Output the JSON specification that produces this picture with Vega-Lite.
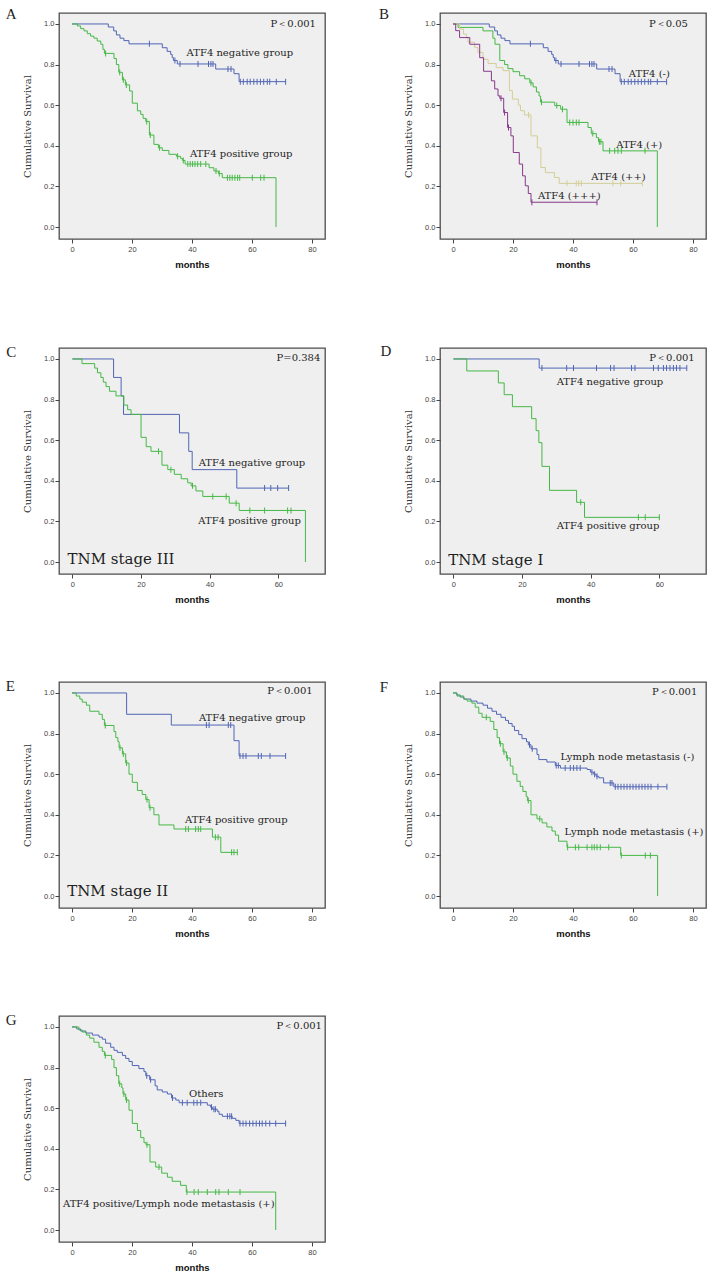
{
"$schema":"https://vega.github.io/schema/vega-lite/v6.json",
"padding":{"left":5,"top":6,"right":5,"bottom":2},
"background":"white",
"columns":2,
"spacing":{"row":73,"column":52},
"datasets":{
"km":[
{"p":"A","g":"neg","t":0,"s":1,"c":0},{"p":"A","g":"neg","t":12.1,"s":0.985,"c":0},{"p":"A","g":"neg","t":13.9,"s":0.966,"c":0},{"p":"A","g":"neg","t":14.8,"s":0.946,"c":0},{"p":"A","g":"neg","t":16,"s":0.93,"c":0},{"p":"A","g":"neg","t":17.3,"s":0.918,"c":0},{"p":"A","g":"neg","t":19,"s":0.902,"c":0},{"p":"A","g":"neg","t":25.8,"s":0.902,"c":1},{"p":"A","g":"neg","t":30.1,"s":0.883,"c":0},{"p":"A","g":"neg","t":31.7,"s":0.865,"c":0},{"p":"A","g":"neg","t":32.9,"s":0.85,"c":0},{"p":"A","g":"neg","t":33.4,"s":0.835,"c":0},{"p":"A","g":"neg","t":33.8,"s":0.82,"c":0},{"p":"A","g":"neg","t":34.3,"s":0.82,"c":1},{"p":"A","g":"neg","t":35.1,"s":0.803,"c":0},{"p":"A","g":"neg","t":36,"s":0.803,"c":1},{"p":"A","g":"neg","t":42,"s":0.803,"c":1},{"p":"A","g":"neg","t":45.5,"s":0.803,"c":1},{"p":"A","g":"neg","t":46.3,"s":0.803,"c":1},{"p":"A","g":"neg","t":47,"s":0.803,"c":1},{"p":"A","g":"neg","t":47.9,"s":0.778,"c":0},{"p":"A","g":"neg","t":52,"s":0.778,"c":1},{"p":"A","g":"neg","t":53,"s":0.778,"c":1},{"p":"A","g":"neg","t":54,"s":0.755,"c":0},{"p":"A","g":"neg","t":55.7,"s":0.716,"c":0},{"p":"A","g":"neg","t":56.1,"s":0.716,"c":1},{"p":"A","g":"neg","t":57.1,"s":0.716,"c":1},{"p":"A","g":"neg","t":58.4,"s":0.716,"c":1},{"p":"A","g":"neg","t":59.4,"s":0.716,"c":1},{"p":"A","g":"neg","t":60.6,"s":0.716,"c":1},{"p":"A","g":"neg","t":61.7,"s":0.716,"c":1},{"p":"A","g":"neg","t":62.8,"s":0.716,"c":1},{"p":"A","g":"neg","t":63.9,"s":0.716,"c":1},{"p":"A","g":"neg","t":65.1,"s":0.716,"c":1},{"p":"A","g":"neg","t":65.9,"s":0.716,"c":1},{"p":"A","g":"neg","t":68.1,"s":0.716,"c":1},{"p":"A","g":"neg","t":71.2,"s":0.716,"c":1},
{"p":"A","g":"pos","t":0,"s":1,"c":0},{"p":"A","g":"pos","t":1.8,"s":0.99,"c":0},{"p":"A","g":"pos","t":2.9,"s":0.977,"c":0},{"p":"A","g":"pos","t":4,"s":0.966,"c":0},{"p":"A","g":"pos","t":5.1,"s":0.952,"c":0},{"p":"A","g":"pos","t":6.2,"s":0.94,"c":0},{"p":"A","g":"pos","t":7.3,"s":0.93,"c":0},{"p":"A","g":"pos","t":8.4,"s":0.916,"c":0},{"p":"A","g":"pos","t":9.6,"s":0.9,"c":0},{"p":"A","g":"pos","t":10.3,"s":0.875,"c":0},{"p":"A","g":"pos","t":10.8,"s":0.855,"c":0},{"p":"A","g":"pos","t":11.2,"s":0.855,"c":1},{"p":"A","g":"pos","t":14,"s":0.83,"c":0},{"p":"A","g":"pos","t":14.8,"s":0.8,"c":0},{"p":"A","g":"pos","t":15.6,"s":0.762,"c":0},{"p":"A","g":"pos","t":15.9,"s":0.762,"c":1},{"p":"A","g":"pos","t":16.8,"s":0.725,"c":0},{"p":"A","g":"pos","t":17.1,"s":0.725,"c":1},{"p":"A","g":"pos","t":17.8,"s":0.7,"c":0},{"p":"A","g":"pos","t":18.1,"s":0.7,"c":1},{"p":"A","g":"pos","t":19.2,"s":0.67,"c":0},{"p":"A","g":"pos","t":20.1,"s":0.61,"c":0},{"p":"A","g":"pos","t":21.8,"s":0.572,"c":0},{"p":"A","g":"pos","t":22.9,"s":0.555,"c":0},{"p":"A","g":"pos","t":23.7,"s":0.535,"c":0},{"p":"A","g":"pos","t":24.6,"s":0.52,"c":0},{"p":"A","g":"pos","t":24.9,"s":0.52,"c":1},{"p":"A","g":"pos","t":25.8,"s":0.453,"c":0},{"p":"A","g":"pos","t":26.1,"s":0.453,"c":1},{"p":"A","g":"pos","t":27.3,"s":0.407,"c":0},{"p":"A","g":"pos","t":28.8,"s":0.39,"c":0},{"p":"A","g":"pos","t":29.2,"s":0.39,"c":1},{"p":"A","g":"pos","t":30.1,"s":0.377,"c":0},{"p":"A","g":"pos","t":32.3,"s":0.358,"c":0},{"p":"A","g":"pos","t":34.8,"s":0.348,"c":0},{"p":"A","g":"pos","t":35.2,"s":0.348,"c":1},{"p":"A","g":"pos","t":36.2,"s":0.338,"c":0},{"p":"A","g":"pos","t":36.8,"s":0.328,"c":0},{"p":"A","g":"pos","t":37.1,"s":0.328,"c":1},{"p":"A","g":"pos","t":37.7,"s":0.31,"c":0},{"p":"A","g":"pos","t":38.6,"s":0.31,"c":1},{"p":"A","g":"pos","t":39.4,"s":0.31,"c":1},{"p":"A","g":"pos","t":40.2,"s":0.31,"c":1},{"p":"A","g":"pos","t":41,"s":0.31,"c":1},{"p":"A","g":"pos","t":41.9,"s":0.31,"c":1},{"p":"A","g":"pos","t":42.9,"s":0.31,"c":1},{"p":"A","g":"pos","t":44.6,"s":0.31,"c":1},{"p":"A","g":"pos","t":45.7,"s":0.292,"c":0},{"p":"A","g":"pos","t":47.3,"s":0.276,"c":0},{"p":"A","g":"pos","t":48,"s":0.276,"c":1},{"p":"A","g":"pos","t":48.8,"s":0.263,"c":0},{"p":"A","g":"pos","t":49.1,"s":0.263,"c":1},{"p":"A","g":"pos","t":50.1,"s":0.243,"c":0},{"p":"A","g":"pos","t":51.8,"s":0.243,"c":1},{"p":"A","g":"pos","t":52.6,"s":0.243,"c":1},{"p":"A","g":"pos","t":53.4,"s":0.243,"c":1},{"p":"A","g":"pos","t":54.3,"s":0.243,"c":1},{"p":"A","g":"pos","t":55.2,"s":0.243,"c":1},{"p":"A","g":"pos","t":55.9,"s":0.243,"c":1},{"p":"A","g":"pos","t":60.1,"s":0.243,"c":1},{"p":"A","g":"pos","t":62.9,"s":0.243,"c":1},{"p":"A","g":"pos","t":64,"s":0.243,"c":1},{"p":"A","g":"pos","t":68,"s":0,"c":0},
{"p":"B","g":"m0","t":0,"s":1,"c":0},{"p":"B","g":"m0","t":12.1,"s":0.985,"c":0},{"p":"B","g":"m0","t":13.9,"s":0.966,"c":0},{"p":"B","g":"m0","t":14.8,"s":0.946,"c":0},{"p":"B","g":"m0","t":16,"s":0.93,"c":0},{"p":"B","g":"m0","t":17.3,"s":0.918,"c":0},{"p":"B","g":"m0","t":19,"s":0.902,"c":0},{"p":"B","g":"m0","t":25.8,"s":0.902,"c":1},{"p":"B","g":"m0","t":30.1,"s":0.883,"c":0},{"p":"B","g":"m0","t":31.7,"s":0.865,"c":0},{"p":"B","g":"m0","t":32.9,"s":0.85,"c":0},{"p":"B","g":"m0","t":33.4,"s":0.835,"c":0},{"p":"B","g":"m0","t":33.8,"s":0.82,"c":0},{"p":"B","g":"m0","t":34.3,"s":0.82,"c":1},{"p":"B","g":"m0","t":35.1,"s":0.803,"c":0},{"p":"B","g":"m0","t":36,"s":0.803,"c":1},{"p":"B","g":"m0","t":42,"s":0.803,"c":1},{"p":"B","g":"m0","t":45.5,"s":0.803,"c":1},{"p":"B","g":"m0","t":46.3,"s":0.803,"c":1},{"p":"B","g":"m0","t":47,"s":0.803,"c":1},{"p":"B","g":"m0","t":47.9,"s":0.778,"c":0},{"p":"B","g":"m0","t":52,"s":0.778,"c":1},{"p":"B","g":"m0","t":53,"s":0.778,"c":1},{"p":"B","g":"m0","t":54,"s":0.755,"c":0},{"p":"B","g":"m0","t":55.7,"s":0.716,"c":0},{"p":"B","g":"m0","t":56.1,"s":0.716,"c":1},{"p":"B","g":"m0","t":57.1,"s":0.716,"c":1},{"p":"B","g":"m0","t":58.4,"s":0.716,"c":1},{"p":"B","g":"m0","t":59.4,"s":0.716,"c":1},{"p":"B","g":"m0","t":60.6,"s":0.716,"c":1},{"p":"B","g":"m0","t":61.7,"s":0.716,"c":1},{"p":"B","g":"m0","t":62.8,"s":0.716,"c":1},{"p":"B","g":"m0","t":63.9,"s":0.716,"c":1},{"p":"B","g":"m0","t":65.1,"s":0.716,"c":1},{"p":"B","g":"m0","t":65.9,"s":0.716,"c":1},{"p":"B","g":"m0","t":68.1,"s":0.716,"c":1},{"p":"B","g":"m0","t":71.2,"s":0.716,"c":1},
{"p":"B","g":"m1","t":0,"s":1,"c":0},{"p":"B","g":"m1","t":1.7,"s":0.983,"c":0},{"p":"B","g":"m1","t":10,"s":0.966,"c":0},{"p":"B","g":"m1","t":13.3,"s":0.93,"c":0},{"p":"B","g":"m1","t":14,"s":0.9,"c":0},{"p":"B","g":"m1","t":15.6,"s":0.82,"c":0},{"p":"B","g":"m1","t":17.2,"s":0.8,"c":0},{"p":"B","g":"m1","t":18.3,"s":0.78,"c":0},{"p":"B","g":"m1","t":20,"s":0.765,"c":0},{"p":"B","g":"m1","t":22.2,"s":0.745,"c":0},{"p":"B","g":"m1","t":23.9,"s":0.73,"c":0},{"p":"B","g":"m1","t":25.6,"s":0.71,"c":0},{"p":"B","g":"m1","t":26,"s":0.71,"c":1},{"p":"B","g":"m1","t":26.7,"s":0.69,"c":0},{"p":"B","g":"m1","t":27.8,"s":0.665,"c":0},{"p":"B","g":"m1","t":28.7,"s":0.645,"c":0},{"p":"B","g":"m1","t":29.2,"s":0.615,"c":0},{"p":"B","g":"m1","t":29.5,"s":0.615,"c":1},{"p":"B","g":"m1","t":33.9,"s":0.598,"c":0},{"p":"B","g":"m1","t":34.6,"s":0.598,"c":1},{"p":"B","g":"m1","t":35.9,"s":0.58,"c":0},{"p":"B","g":"m1","t":36.5,"s":0.58,"c":1},{"p":"B","g":"m1","t":38,"s":0.515,"c":0},{"p":"B","g":"m1","t":38.9,"s":0.515,"c":1},{"p":"B","g":"m1","t":40,"s":0.515,"c":1},{"p":"B","g":"m1","t":41.1,"s":0.515,"c":1},{"p":"B","g":"m1","t":42,"s":0.515,"c":1},{"p":"B","g":"m1","t":45,"s":0.49,"c":0},{"p":"B","g":"m1","t":46.1,"s":0.46,"c":0},{"p":"B","g":"m1","t":46.6,"s":0.46,"c":1},{"p":"B","g":"m1","t":47.8,"s":0.44,"c":0},{"p":"B","g":"m1","t":48.5,"s":0.42,"c":0},{"p":"B","g":"m1","t":48.8,"s":0.42,"c":1},{"p":"B","g":"m1","t":49.3,"s":0.42,"c":1},{"p":"B","g":"m1","t":50,"s":0.375,"c":0},{"p":"B","g":"m1","t":52.2,"s":0.375,"c":1},{"p":"B","g":"m1","t":53.9,"s":0.375,"c":1},{"p":"B","g":"m1","t":55,"s":0.375,"c":1},{"p":"B","g":"m1","t":56.1,"s":0.375,"c":1},{"p":"B","g":"m1","t":64,"s":0.375,"c":1},{"p":"B","g":"m1","t":68.1,"s":0,"c":0},
{"p":"B","g":"m2","t":0,"s":1,"c":0},{"p":"B","g":"m2","t":2.2,"s":0.975,"c":0},{"p":"B","g":"m2","t":3.5,"s":0.95,"c":0},{"p":"B","g":"m2","t":4.5,"s":0.93,"c":0},{"p":"B","g":"m2","t":5,"s":0.91,"c":0},{"p":"B","g":"m2","t":7.2,"s":0.885,"c":0},{"p":"B","g":"m2","t":8.3,"s":0.86,"c":0},{"p":"B","g":"m2","t":10,"s":0.826,"c":0},{"p":"B","g":"m2","t":11.7,"s":0.805,"c":0},{"p":"B","g":"m2","t":14.4,"s":0.785,"c":0},{"p":"B","g":"m2","t":16.7,"s":0.77,"c":0},{"p":"B","g":"m2","t":18.8,"s":0.672,"c":0},{"p":"B","g":"m2","t":19.8,"s":0.63,"c":0},{"p":"B","g":"m2","t":21.8,"s":0.6,"c":0},{"p":"B","g":"m2","t":22.5,"s":0.573,"c":0},{"p":"B","g":"m2","t":23.8,"s":0.552,"c":0},{"p":"B","g":"m2","t":25.2,"s":0.552,"c":1},{"p":"B","g":"m2","t":26,"s":0.449,"c":0},{"p":"B","g":"m2","t":28.1,"s":0.39,"c":0},{"p":"B","g":"m2","t":29.3,"s":0.293,"c":0},{"p":"B","g":"m2","t":30.8,"s":0.268,"c":0},{"p":"B","g":"m2","t":33.8,"s":0.244,"c":0},{"p":"B","g":"m2","t":35.4,"s":0.215,"c":0},{"p":"B","g":"m2","t":38,"s":0.215,"c":1},{"p":"B","g":"m2","t":41.1,"s":0.215,"c":1},{"p":"B","g":"m2","t":41.9,"s":0.215,"c":1},{"p":"B","g":"m2","t":42.8,"s":0.215,"c":1},{"p":"B","g":"m2","t":53.3,"s":0.215,"c":1},{"p":"B","g":"m2","t":55.9,"s":0.215,"c":1},{"p":"B","g":"m2","t":63.1,"s":0.215,"c":1},
{"p":"B","g":"m3","t":0,"s":1,"c":0},{"p":"B","g":"m3","t":0.9,"s":0.967,"c":0},{"p":"B","g":"m3","t":2.2,"s":0.933,"c":0},{"p":"B","g":"m3","t":5.6,"s":0.9,"c":0},{"p":"B","g":"m3","t":8.9,"s":0.834,"c":0},{"p":"B","g":"m3","t":10.2,"s":0.767,"c":0},{"p":"B","g":"m3","t":12.8,"s":0.72,"c":0},{"p":"B","g":"m3","t":13.9,"s":0.68,"c":0},{"p":"B","g":"m3","t":15,"s":0.646,"c":0},{"p":"B","g":"m3","t":15.6,"s":0.634,"c":0},{"p":"B","g":"m3","t":16,"s":0.634,"c":1},{"p":"B","g":"m3","t":16.9,"s":0.564,"c":0},{"p":"B","g":"m3","t":17.2,"s":0.564,"c":1},{"p":"B","g":"m3","t":18.2,"s":0.49,"c":0},{"p":"B","g":"m3","t":18.5,"s":0.49,"c":1},{"p":"B","g":"m3","t":19.3,"s":0.449,"c":0},{"p":"B","g":"m3","t":20.1,"s":0.367,"c":0},{"p":"B","g":"m3","t":22.1,"s":0.31,"c":0},{"p":"B","g":"m3","t":23.2,"s":0.252,"c":0},{"p":"B","g":"m3","t":24.1,"s":0.203,"c":0},{"p":"B","g":"m3","t":25.1,"s":0.165,"c":0},{"p":"B","g":"m3","t":26,"s":0.122,"c":0},{"p":"B","g":"m3","t":26.3,"s":0.122,"c":1},{"p":"B","g":"m3","t":48,"s":0.122,"c":1},
{"p":"C","g":"neg","t":0,"s":1,"c":0},{"p":"C","g":"neg","t":12,"s":0.909,"c":0},{"p":"C","g":"neg","t":14.2,"s":0.818,"c":0},{"p":"C","g":"neg","t":14.9,"s":0.727,"c":0},{"p":"C","g":"neg","t":31.2,"s":0.636,"c":0},{"p":"C","g":"neg","t":33.9,"s":0.545,"c":0},{"p":"C","g":"neg","t":34.9,"s":0.455,"c":0},{"p":"C","g":"neg","t":47.9,"s":0.364,"c":0},{"p":"C","g":"neg","t":56,"s":0.364,"c":1},{"p":"C","g":"neg","t":57.8,"s":0.364,"c":1},{"p":"C","g":"neg","t":59.8,"s":0.364,"c":1},{"p":"C","g":"neg","t":63,"s":0.364,"c":1},
{"p":"C","g":"pos","t":0,"s":1,"c":0},{"p":"C","g":"pos","t":2.8,"s":0.977,"c":0},{"p":"C","g":"pos","t":6.5,"s":0.955,"c":0},{"p":"C","g":"pos","t":7.3,"s":0.932,"c":0},{"p":"C","g":"pos","t":8.3,"s":0.909,"c":0},{"p":"C","g":"pos","t":9,"s":0.886,"c":0},{"p":"C","g":"pos","t":9.8,"s":0.864,"c":0},{"p":"C","g":"pos","t":10.8,"s":0.841,"c":0},{"p":"C","g":"pos","t":12.7,"s":0.818,"c":0},{"p":"C","g":"pos","t":15,"s":0.773,"c":0},{"p":"C","g":"pos","t":16.1,"s":0.75,"c":0},{"p":"C","g":"pos","t":17.1,"s":0.727,"c":0},{"p":"C","g":"pos","t":20,"s":0.614,"c":0},{"p":"C","g":"pos","t":21.5,"s":0.568,"c":0},{"p":"C","g":"pos","t":22.9,"s":0.545,"c":0},{"p":"C","g":"pos","t":25.1,"s":0.545,"c":1},{"p":"C","g":"pos","t":26.1,"s":0.477,"c":0},{"p":"C","g":"pos","t":27.8,"s":0.455,"c":0},{"p":"C","g":"pos","t":28.7,"s":0.455,"c":1},{"p":"C","g":"pos","t":29.7,"s":0.432,"c":0},{"p":"C","g":"pos","t":31.7,"s":0.41,"c":0},{"p":"C","g":"pos","t":33.6,"s":0.39,"c":0},{"p":"C","g":"pos","t":34.6,"s":0.375,"c":0},{"p":"C","g":"pos","t":35,"s":0.375,"c":1},{"p":"C","g":"pos","t":36,"s":0.35,"c":0},{"p":"C","g":"pos","t":38,"s":0.323,"c":0},{"p":"C","g":"pos","t":40.9,"s":0.323,"c":1},{"p":"C","g":"pos","t":44.8,"s":0.323,"c":1},{"p":"C","g":"pos","t":45.7,"s":0.29,"c":0},{"p":"C","g":"pos","t":47.7,"s":0.29,"c":1},{"p":"C","g":"pos","t":48.6,"s":0.254,"c":0},{"p":"C","g":"pos","t":51.7,"s":0.254,"c":1},{"p":"C","g":"pos","t":56,"s":0.254,"c":1},{"p":"C","g":"pos","t":62.7,"s":0.254,"c":1},{"p":"C","g":"pos","t":63.7,"s":0.254,"c":1},{"p":"C","g":"pos","t":67.9,"s":0,"c":0},
{"p":"D","g":"neg","t":0,"s":1,"c":0},{"p":"D","g":"neg","t":25,"s":0.955,"c":0},{"p":"D","g":"neg","t":25.8,"s":0.955,"c":1},{"p":"D","g":"neg","t":33,"s":0.955,"c":1},{"p":"D","g":"neg","t":35,"s":0.955,"c":1},{"p":"D","g":"neg","t":41.7,"s":0.955,"c":1},{"p":"D","g":"neg","t":45.8,"s":0.955,"c":1},{"p":"D","g":"neg","t":46.8,"s":0.955,"c":1},{"p":"D","g":"neg","t":51.9,"s":0.955,"c":1},{"p":"D","g":"neg","t":52.9,"s":0.955,"c":1},{"p":"D","g":"neg","t":58.3,"s":0.955,"c":1},{"p":"D","g":"neg","t":59.7,"s":0.955,"c":1},{"p":"D","g":"neg","t":61.2,"s":0.955,"c":1},{"p":"D","g":"neg","t":62.1,"s":0.955,"c":1},{"p":"D","g":"neg","t":63.1,"s":0.955,"c":1},{"p":"D","g":"neg","t":64.1,"s":0.955,"c":1},{"p":"D","g":"neg","t":65,"s":0.955,"c":1},{"p":"D","g":"neg","t":66,"s":0.955,"c":1},{"p":"D","g":"neg","t":68,"s":0.955,"c":1},
{"p":"D","g":"pos","t":0,"s":1,"c":0},{"p":"D","g":"pos","t":3.9,"s":0.941,"c":0},{"p":"D","g":"pos","t":13.1,"s":0.882,"c":0},{"p":"D","g":"pos","t":14.8,"s":0.824,"c":0},{"p":"D","g":"pos","t":17.2,"s":0.765,"c":0},{"p":"D","g":"pos","t":22.8,"s":0.706,"c":0},{"p":"D","g":"pos","t":24.1,"s":0.647,"c":0},{"p":"D","g":"pos","t":24.9,"s":0.588,"c":0},{"p":"D","g":"pos","t":25.8,"s":0.471,"c":0},{"p":"D","g":"pos","t":28,"s":0.353,"c":0},{"p":"D","g":"pos","t":35.9,"s":0.294,"c":0},{"p":"D","g":"pos","t":37.1,"s":0.294,"c":1},{"p":"D","g":"pos","t":38.2,"s":0.22,"c":0},{"p":"D","g":"pos","t":53.9,"s":0.22,"c":1},{"p":"D","g":"pos","t":55.9,"s":0.22,"c":1},{"p":"D","g":"pos","t":60,"s":0.22,"c":1},
{"p":"E","g":"neg","t":0,"s":1,"c":0},{"p":"E","g":"neg","t":18.2,"s":0.895,"c":0},{"p":"E","g":"neg","t":33.1,"s":0.842,"c":0},{"p":"E","g":"neg","t":44.8,"s":0.842,"c":1},{"p":"E","g":"neg","t":45.7,"s":0.842,"c":1},{"p":"E","g":"neg","t":52.1,"s":0.842,"c":1},{"p":"E","g":"neg","t":52.9,"s":0.842,"c":1},{"p":"E","g":"neg","t":54,"s":0.765,"c":0},{"p":"E","g":"neg","t":55.7,"s":0.69,"c":0},{"p":"E","g":"neg","t":56,"s":0.69,"c":1},{"p":"E","g":"neg","t":57,"s":0.69,"c":1},{"p":"E","g":"neg","t":58,"s":0.69,"c":1},{"p":"E","g":"neg","t":62.1,"s":0.69,"c":1},{"p":"E","g":"neg","t":63.1,"s":0.69,"c":1},{"p":"E","g":"neg","t":66,"s":0.69,"c":1},{"p":"E","g":"neg","t":71.2,"s":0.69,"c":1},
{"p":"E","g":"pos","t":0,"s":1,"c":0},{"p":"E","g":"pos","t":1.4,"s":0.985,"c":0},{"p":"E","g":"pos","t":2.6,"s":0.97,"c":0},{"p":"E","g":"pos","t":3.4,"s":0.955,"c":0},{"p":"E","g":"pos","t":4.8,"s":0.94,"c":0},{"p":"E","g":"pos","t":5.9,"s":0.91,"c":0},{"p":"E","g":"pos","t":9,"s":0.895,"c":0},{"p":"E","g":"pos","t":10.1,"s":0.87,"c":0},{"p":"E","g":"pos","t":10.8,"s":0.84,"c":0},{"p":"E","g":"pos","t":11.1,"s":0.84,"c":1},{"p":"E","g":"pos","t":14,"s":0.81,"c":0},{"p":"E","g":"pos","t":14.6,"s":0.78,"c":0},{"p":"E","g":"pos","t":15.3,"s":0.76,"c":0},{"p":"E","g":"pos","t":15.7,"s":0.73,"c":0},{"p":"E","g":"pos","t":16,"s":0.73,"c":1},{"p":"E","g":"pos","t":16.8,"s":0.7,"c":0},{"p":"E","g":"pos","t":17.1,"s":0.7,"c":1},{"p":"E","g":"pos","t":17.9,"s":0.655,"c":0},{"p":"E","g":"pos","t":18.2,"s":0.655,"c":1},{"p":"E","g":"pos","t":19,"s":0.6,"c":0},{"p":"E","g":"pos","t":20.1,"s":0.56,"c":0},{"p":"E","g":"pos","t":21.8,"s":0.52,"c":0},{"p":"E","g":"pos","t":23.4,"s":0.5,"c":0},{"p":"E","g":"pos","t":24.6,"s":0.475,"c":0},{"p":"E","g":"pos","t":25,"s":0.475,"c":1},{"p":"E","g":"pos","t":25.7,"s":0.435,"c":0},{"p":"E","g":"pos","t":26,"s":0.435,"c":1},{"p":"E","g":"pos","t":27.3,"s":0.4,"c":0},{"p":"E","g":"pos","t":29,"s":0.35,"c":0},{"p":"E","g":"pos","t":34,"s":0.33,"c":0},{"p":"E","g":"pos","t":37.9,"s":0.33,"c":1},{"p":"E","g":"pos","t":38.8,"s":0.33,"c":1},{"p":"E","g":"pos","t":41.2,"s":0.33,"c":1},{"p":"E","g":"pos","t":42.1,"s":0.33,"c":1},{"p":"E","g":"pos","t":42.9,"s":0.33,"c":1},{"p":"E","g":"pos","t":46.8,"s":0.29,"c":0},{"p":"E","g":"pos","t":47.8,"s":0.29,"c":1},{"p":"E","g":"pos","t":48.7,"s":0.29,"c":1},{"p":"E","g":"pos","t":49.6,"s":0.215,"c":0},{"p":"E","g":"pos","t":53.2,"s":0.215,"c":1},{"p":"E","g":"pos","t":54,"s":0.215,"c":1},{"p":"E","g":"pos","t":55.1,"s":0.215,"c":1},
{"p":"F","g":"ln0","t":0,"s":1,"c":0},{"p":"F","g":"ln0","t":1.3,"s":0.99,"c":0},{"p":"F","g":"ln0","t":2.4,"s":0.98,"c":0},{"p":"F","g":"ln0","t":3.6,"s":0.97,"c":0},{"p":"F","g":"ln0","t":6,"s":0.96,"c":0},{"p":"F","g":"ln0","t":8,"s":0.95,"c":0},{"p":"F","g":"ln0","t":10,"s":0.94,"c":0},{"p":"F","g":"ln0","t":11.5,"s":0.925,"c":0},{"p":"F","g":"ln0","t":13,"s":0.91,"c":0},{"p":"F","g":"ln0","t":14.5,"s":0.895,"c":0},{"p":"F","g":"ln0","t":16,"s":0.88,"c":0},{"p":"F","g":"ln0","t":17.5,"s":0.865,"c":0},{"p":"F","g":"ln0","t":18.5,"s":0.85,"c":0},{"p":"F","g":"ln0","t":19.7,"s":0.836,"c":0},{"p":"F","g":"ln0","t":20.5,"s":0.815,"c":0},{"p":"F","g":"ln0","t":21.9,"s":0.795,"c":0},{"p":"F","g":"ln0","t":23,"s":0.775,"c":0},{"p":"F","g":"ln0","t":24.5,"s":0.76,"c":0},{"p":"F","g":"ln0","t":25.1,"s":0.745,"c":0},{"p":"F","g":"ln0","t":25.5,"s":0.745,"c":1},{"p":"F","g":"ln0","t":26,"s":0.725,"c":0},{"p":"F","g":"ln0","t":26.4,"s":0.725,"c":1},{"p":"F","g":"ln0","t":28,"s":0.697,"c":0},{"p":"F","g":"ln0","t":28.6,"s":0.672,"c":0},{"p":"F","g":"ln0","t":31.3,"s":0.66,"c":0},{"p":"F","g":"ln0","t":34.1,"s":0.643,"c":0},{"p":"F","g":"ln0","t":34.4,"s":0.643,"c":1},{"p":"F","g":"ln0","t":35.1,"s":0.643,"c":1},{"p":"F","g":"ln0","t":35.8,"s":0.63,"c":0},{"p":"F","g":"ln0","t":37.4,"s":0.63,"c":1},{"p":"F","g":"ln0","t":39.1,"s":0.63,"c":1},{"p":"F","g":"ln0","t":40.2,"s":0.63,"c":1},{"p":"F","g":"ln0","t":41.3,"s":0.63,"c":1},{"p":"F","g":"ln0","t":42.4,"s":0.63,"c":1},{"p":"F","g":"ln0","t":44.7,"s":0.623,"c":0},{"p":"F","g":"ln0","t":45.8,"s":0.61,"c":0},{"p":"F","g":"ln0","t":46.3,"s":0.61,"c":1},{"p":"F","g":"ln0","t":46.9,"s":0.6,"c":0},{"p":"F","g":"ln0","t":47.2,"s":0.6,"c":1},{"p":"F","g":"ln0","t":47.7,"s":0.59,"c":0},{"p":"F","g":"ln0","t":48,"s":0.59,"c":1},{"p":"F","g":"ln0","t":48.6,"s":0.582,"c":0},{"p":"F","g":"ln0","t":50.2,"s":0.557,"c":0},{"p":"F","g":"ln0","t":52.4,"s":0.557,"c":1},{"p":"F","g":"ln0","t":53,"s":0.557,"c":1},{"p":"F","g":"ln0","t":53.6,"s":0.538,"c":0},{"p":"F","g":"ln0","t":54.1,"s":0.538,"c":1},{"p":"F","g":"ln0","t":55,"s":0.538,"c":1},{"p":"F","g":"ln0","t":56,"s":0.538,"c":1},{"p":"F","g":"ln0","t":57,"s":0.538,"c":1},{"p":"F","g":"ln0","t":58,"s":0.538,"c":1},{"p":"F","g":"ln0","t":59,"s":0.538,"c":1},{"p":"F","g":"ln0","t":60,"s":0.538,"c":1},{"p":"F","g":"ln0","t":61,"s":0.538,"c":1},{"p":"F","g":"ln0","t":62,"s":0.538,"c":1},{"p":"F","g":"ln0","t":63,"s":0.538,"c":1},{"p":"F","g":"ln0","t":64,"s":0.538,"c":1},{"p":"F","g":"ln0","t":65,"s":0.538,"c":1},{"p":"F","g":"ln0","t":66,"s":0.538,"c":1},{"p":"F","g":"ln0","t":68.3,"s":0.538,"c":1},{"p":"F","g":"ln0","t":71.3,"s":0.538,"c":1},
{"p":"F","g":"ln1","t":0,"s":1,"c":0},{"p":"F","g":"ln1","t":1.3,"s":0.985,"c":0},{"p":"F","g":"ln1","t":3.6,"s":0.97,"c":0},{"p":"F","g":"ln1","t":4.7,"s":0.96,"c":0},{"p":"F","g":"ln1","t":6.3,"s":0.95,"c":0},{"p":"F","g":"ln1","t":7.4,"s":0.93,"c":0},{"p":"F","g":"ln1","t":8.6,"s":0.9,"c":0},{"p":"F","g":"ln1","t":9.7,"s":0.88,"c":0},{"p":"F","g":"ln1","t":11.1,"s":0.88,"c":1},{"p":"F","g":"ln1","t":12.4,"s":0.86,"c":0},{"p":"F","g":"ln1","t":13.6,"s":0.82,"c":0},{"p":"F","g":"ln1","t":14.7,"s":0.78,"c":0},{"p":"F","g":"ln1","t":15.5,"s":0.75,"c":0},{"p":"F","g":"ln1","t":15.8,"s":0.75,"c":1},{"p":"F","g":"ln1","t":16.7,"s":0.71,"c":0},{"p":"F","g":"ln1","t":17,"s":0.71,"c":1},{"p":"F","g":"ln1","t":17.8,"s":0.68,"c":0},{"p":"F","g":"ln1","t":18.1,"s":0.68,"c":1},{"p":"F","g":"ln1","t":19.1,"s":0.64,"c":0},{"p":"F","g":"ln1","t":20,"s":0.6,"c":0},{"p":"F","g":"ln1","t":21.3,"s":0.565,"c":0},{"p":"F","g":"ln1","t":22.4,"s":0.54,"c":0},{"p":"F","g":"ln1","t":23.3,"s":0.515,"c":0},{"p":"F","g":"ln1","t":24.4,"s":0.49,"c":0},{"p":"F","g":"ln1","t":24.8,"s":0.47,"c":0},{"p":"F","g":"ln1","t":25.1,"s":0.47,"c":1},{"p":"F","g":"ln1","t":26,"s":0.4,"c":0},{"p":"F","g":"ln1","t":28,"s":0.38,"c":0},{"p":"F","g":"ln1","t":28.9,"s":0.38,"c":1},{"p":"F","g":"ln1","t":29.7,"s":0.36,"c":0},{"p":"F","g":"ln1","t":31.3,"s":0.34,"c":0},{"p":"F","g":"ln1","t":33,"s":0.32,"c":0},{"p":"F","g":"ln1","t":34.1,"s":0.3,"c":0},{"p":"F","g":"ln1","t":35.2,"s":0.27,"c":0},{"p":"F","g":"ln1","t":38,"s":0.24,"c":0},{"p":"F","g":"ln1","t":38.2,"s":0.24,"c":1},{"p":"F","g":"ln1","t":40.8,"s":0.24,"c":1},{"p":"F","g":"ln1","t":41.9,"s":0.24,"c":1},{"p":"F","g":"ln1","t":44.7,"s":0.24,"c":1},{"p":"F","g":"ln1","t":46.3,"s":0.24,"c":1},{"p":"F","g":"ln1","t":47.1,"s":0.24,"c":1},{"p":"F","g":"ln1","t":48,"s":0.24,"c":1},{"p":"F","g":"ln1","t":49.1,"s":0.24,"c":1},{"p":"F","g":"ln1","t":51.9,"s":0.24,"c":1},{"p":"F","g":"ln1","t":55.9,"s":0.2,"c":0},{"p":"F","g":"ln1","t":56.1,"s":0.2,"c":1},{"p":"F","g":"ln1","t":64.1,"s":0.2,"c":1},{"p":"F","g":"ln1","t":65.8,"s":0.2,"c":1},{"p":"F","g":"ln1","t":68.2,"s":0,"c":0},
{"p":"G","g":"oth","t":0,"s":1,"c":0},{"p":"G","g":"oth","t":1.6,"s":0.99,"c":0},{"p":"G","g":"oth","t":2.9,"s":0.98,"c":0},{"p":"G","g":"oth","t":4.6,"s":0.97,"c":0},{"p":"G","g":"oth","t":6.8,"s":0.96,"c":0},{"p":"G","g":"oth","t":9,"s":0.95,"c":0},{"p":"G","g":"oth","t":10.1,"s":0.94,"c":0},{"p":"G","g":"oth","t":11.2,"s":0.92,"c":0},{"p":"G","g":"oth","t":12.9,"s":0.9,"c":0},{"p":"G","g":"oth","t":14,"s":0.885,"c":0},{"p":"G","g":"oth","t":15.1,"s":0.875,"c":0},{"p":"G","g":"oth","t":16.8,"s":0.86,"c":0},{"p":"G","g":"oth","t":17.9,"s":0.845,"c":0},{"p":"G","g":"oth","t":19,"s":0.83,"c":0},{"p":"G","g":"oth","t":20.1,"s":0.81,"c":0},{"p":"G","g":"oth","t":22.3,"s":0.795,"c":0},{"p":"G","g":"oth","t":24,"s":0.78,"c":0},{"p":"G","g":"oth","t":24.6,"s":0.76,"c":0},{"p":"G","g":"oth","t":24.9,"s":0.76,"c":1},{"p":"G","g":"oth","t":25.9,"s":0.74,"c":0},{"p":"G","g":"oth","t":26.2,"s":0.74,"c":1},{"p":"G","g":"oth","t":27.7,"s":0.71,"c":0},{"p":"G","g":"oth","t":28.4,"s":0.69,"c":0},{"p":"G","g":"oth","t":30.1,"s":0.68,"c":0},{"p":"G","g":"oth","t":31.8,"s":0.67,"c":0},{"p":"G","g":"oth","t":33.2,"s":0.65,"c":0},{"p":"G","g":"oth","t":33.5,"s":0.65,"c":1},{"p":"G","g":"oth","t":34.6,"s":0.64,"c":0},{"p":"G","g":"oth","t":35.7,"s":0.627,"c":0},{"p":"G","g":"oth","t":36.8,"s":0.627,"c":1},{"p":"G","g":"oth","t":38.4,"s":0.627,"c":1},{"p":"G","g":"oth","t":40.6,"s":0.627,"c":1},{"p":"G","g":"oth","t":41.7,"s":0.627,"c":1},{"p":"G","g":"oth","t":42.9,"s":0.627,"c":1},{"p":"G","g":"oth","t":45.1,"s":0.615,"c":0},{"p":"G","g":"oth","t":46.2,"s":0.605,"c":0},{"p":"G","g":"oth","t":46.5,"s":0.605,"c":1},{"p":"G","g":"oth","t":46.8,"s":0.595,"c":0},{"p":"G","g":"oth","t":47.3,"s":0.595,"c":1},{"p":"G","g":"oth","t":47.8,"s":0.595,"c":1},{"p":"G","g":"oth","t":48.4,"s":0.585,"c":0},{"p":"G","g":"oth","t":49,"s":0.57,"c":0},{"p":"G","g":"oth","t":50.1,"s":0.56,"c":0},{"p":"G","g":"oth","t":51.8,"s":0.56,"c":1},{"p":"G","g":"oth","t":52.6,"s":0.56,"c":1},{"p":"G","g":"oth","t":53.2,"s":0.56,"c":1},{"p":"G","g":"oth","t":53.4,"s":0.55,"c":0},{"p":"G","g":"oth","t":54.6,"s":0.54,"c":0},{"p":"G","g":"oth","t":55.7,"s":0.525,"c":0},{"p":"G","g":"oth","t":56,"s":0.525,"c":1},{"p":"G","g":"oth","t":57,"s":0.525,"c":1},{"p":"G","g":"oth","t":58,"s":0.525,"c":1},{"p":"G","g":"oth","t":59.2,"s":0.525,"c":1},{"p":"G","g":"oth","t":60.3,"s":0.525,"c":1},{"p":"G","g":"oth","t":61.4,"s":0.525,"c":1},{"p":"G","g":"oth","t":62.5,"s":0.525,"c":1},{"p":"G","g":"oth","t":63.4,"s":0.525,"c":1},{"p":"G","g":"oth","t":64.6,"s":0.525,"c":1},{"p":"G","g":"oth","t":65.9,"s":0.525,"c":1},{"p":"G","g":"oth","t":67.9,"s":0.525,"c":1},{"p":"G","g":"oth","t":71.2,"s":0.525,"c":1},
{"p":"G","g":"atln","t":0,"s":1,"c":0},{"p":"G","g":"atln","t":2.3,"s":0.985,"c":0},{"p":"G","g":"atln","t":3.4,"s":0.975,"c":0},{"p":"G","g":"atln","t":4.8,"s":0.96,"c":0},{"p":"G","g":"atln","t":5.9,"s":0.945,"c":0},{"p":"G","g":"atln","t":7.3,"s":0.925,"c":0},{"p":"G","g":"atln","t":9,"s":0.9,"c":0},{"p":"G","g":"atln","t":10.1,"s":0.88,"c":0},{"p":"G","g":"atln","t":10.8,"s":0.86,"c":0},{"p":"G","g":"atln","t":11.1,"s":0.86,"c":1},{"p":"G","g":"atln","t":13.2,"s":0.84,"c":0},{"p":"G","g":"atln","t":14,"s":0.8,"c":0},{"p":"G","g":"atln","t":14.8,"s":0.76,"c":0},{"p":"G","g":"atln","t":15.6,"s":0.72,"c":0},{"p":"G","g":"atln","t":15.9,"s":0.72,"c":1},{"p":"G","g":"atln","t":16.6,"s":0.7,"c":0},{"p":"G","g":"atln","t":17,"s":0.67,"c":0},{"p":"G","g":"atln","t":17.3,"s":0.67,"c":1},{"p":"G","g":"atln","t":17.9,"s":0.64,"c":0},{"p":"G","g":"atln","t":18.2,"s":0.64,"c":1},{"p":"G","g":"atln","t":19,"s":0.59,"c":0},{"p":"G","g":"atln","t":20.1,"s":0.525,"c":0},{"p":"G","g":"atln","t":21.8,"s":0.49,"c":0},{"p":"G","g":"atln","t":22.9,"s":0.455,"c":0},{"p":"G","g":"atln","t":24,"s":0.43,"c":0},{"p":"G","g":"atln","t":24.7,"s":0.42,"c":0},{"p":"G","g":"atln","t":25,"s":0.42,"c":1},{"p":"G","g":"atln","t":26,"s":0.335,"c":0},{"p":"G","g":"atln","t":27.9,"s":0.31,"c":0},{"p":"G","g":"atln","t":29,"s":0.31,"c":1},{"p":"G","g":"atln","t":29.9,"s":0.28,"c":0},{"p":"G","g":"atln","t":31.8,"s":0.26,"c":0},{"p":"G","g":"atln","t":33.4,"s":0.24,"c":0},{"p":"G","g":"atln","t":36.2,"s":0.22,"c":0},{"p":"G","g":"atln","t":38.1,"s":0.187,"c":0},{"p":"G","g":"atln","t":38.3,"s":0.187,"c":1},{"p":"G","g":"atln","t":40.7,"s":0.187,"c":1},{"p":"G","g":"atln","t":42.1,"s":0.187,"c":1},{"p":"G","g":"atln","t":45.1,"s":0.187,"c":1},{"p":"G","g":"atln","t":47.9,"s":0.187,"c":1},{"p":"G","g":"atln","t":49,"s":0.187,"c":1},{"p":"G","g":"atln","t":52.1,"s":0.187,"c":1},{"p":"G","g":"atln","t":56,"s":0.187,"c":1},{"p":"G","g":"atln","t":67.9,"s":0,"c":0}
],
"labels":[
{"p":"A","k":"letter","text":"A","t":-22.1,"s":1.048},
{"p":"A","k":"lab","text":"P＜0.001","t":66.2,"s":1.0},
{"p":"A","k":"lab","text":"ATF4 negative group","t":38.2,"s":0.859},
{"p":"A","k":"lab","text":"ATF4 positive group","t":39.3,"s":0.361},
{"p":"B","k":"letter","text":"B","t":-24.7,"s":1.048},
{"p":"B","k":"lab","text":"P＜0.05","t":65.3,"s":1.0},
{"p":"B","k":"lab","text":"ATF4 (-)","t":58.6,"s":0.752},
{"p":"B","k":"lab","text":"ATF4 (+)","t":54.4,"s":0.405},
{"p":"B","k":"lab","text":"ATF4 (++)","t":46.1,"s":0.244},
{"p":"B","k":"lab","text":"ATF4 (+++)","t":28.3,"s":0.154},
{"p":"C","k":"letter","text":"C","t":-19.3,"s":1.036},
{"p":"C","k":"lab","text":"P=0.384","t":59.5,"s":1.005},
{"p":"C","k":"lab","text":"ATF4 negative group","t":36.8,"s":0.488},
{"p":"C","k":"lab","text":"ATF4 positive group","t":36.7,"s":0.2},
{"p":"C","k":"stage","text":"TNM stage III","t":-1.4,"s":0.013},
{"p":"D","k":"letter","text":"D","t":-21.2,"s":1.037},
{"p":"D","k":"lab","text":"P＜0.001","t":57.1,"s":1.007},
{"p":"D","k":"lab","text":"ATF4 negative group","t":30.1,"s":0.888},
{"p":"D","k":"lab","text":"ATF4 positive group","t":30.1,"s":0.178},
{"p":"D","k":"stage","text":"TNM stage I","t":-1.5,"s":0.01},
{"p":"E","k":"letter","text":"E","t":-22.1,"s":1.034},
{"p":"E","k":"lab","text":"P＜0.001","t":65.1,"s":1.008},
{"p":"E","k":"lab","text":"ATF4 negative group","t":42.3,"s":0.878},
{"p":"E","k":"lab","text":"ATF4 positive group","t":37.7,"s":0.376},
{"p":"E","k":"stage","text":"TNM stage II","t":-1.6,"s":0.025},
{"p":"F","k":"letter","text":"F","t":-24.4,"s":1.029},
{"p":"F","k":"lab","text":"P＜0.001","t":66.3,"s":1.003},
{"p":"F","k":"lab","text":"Lymph node metastasis (-)","t":35.8,"s":0.684},
{"p":"F","k":"lab","text":"Lymph node metastasis (+)","t":37.2,"s":0.316},
{"p":"G","k":"letter","text":"G","t":-22.1,"s":1.033},
{"p":"G","k":"lab","text":"P＜0.001","t":68.2,"s":1.005},
{"p":"G","k":"lab","text":"Others","t":39,"s":0.671},
{"p":"G","k":"lab","text":"ATF4 positive/Lymph node metastasis (+)","t":-3,"s":0.128}
]
},
"concat":[
{"width":266,"height":226,
 "encoding":{"x":{"field":"t","type":"quantitative","scale":{"domain":[-4.33,84.33],"nice":false,"zero":false},"axis":{"values":[0,20,40,60,80],"title":"months"}},
  "y":{"field":"s","type":"quantitative","scale":{"domain":[-0.059,1.054],"nice":false,"zero":false},"axis":{"values":[0,0.2,0.4,0.6,0.8,1],"format":".1f","title":"Cumulative Survival"}},
  "color":{"field":"g","type":"nominal","scale":{"domain":["neg","pos","m0","m1","m2","m3","ln0","ln1","oth","atln"],"range":["#5065b5","#45b845","#5065b5","#45b845","#d3ce97","#86398a","#5065b5","#45b845","#5065b5","#45b845"]},"legend":null}},
 "layer":[
  {"data":{"name":"km"},"transform":[{"filter":"datum.p==='A'"}],"mark":{"type":"line","interpolate":"step-after","strokeWidth":1}},
  {"data":{"name":"km"},"transform":[{"filter":"datum.p==='A' && datum.c===1"}],"mark":{"type":"tick","orient":"vertical","size":6,"thickness":1,"opacity":1}},
  {"data":{"name":"labels"},"transform":[{"filter":"datum.p==='A' && datum.k==='lab'"}],"mark":{"type":"text","align":"left","baseline":"middle","font":"DejaVu Serif","fontSize":10},"encoding":{"text":{"field":"text"},"color":{"value":"#1e1e1e"}}},
  {"data":{"name":"labels"},"transform":[{"filter":"datum.p==='A' && datum.k==='letter'"}],"mark":{"type":"text","align":"left","baseline":"middle","font":"Liberation Serif","fontSize":15},"encoding":{"text":{"field":"text"},"color":{"value":"#1e1e1e"}}}
 ]},
{"width":266,"height":226,
 "encoding":{"x":{"field":"t","type":"quantitative","scale":{"domain":[-4.33,84.33],"nice":false,"zero":false},"axis":{"values":[0,20,40,60,80],"title":"months"}},
  "y":{"field":"s","type":"quantitative","scale":{"domain":[-0.059,1.054],"nice":false,"zero":false},"axis":{"values":[0,0.2,0.4,0.6,0.8,1],"format":".1f","title":"Cumulative Survival"}},
  "color":{"field":"g","type":"nominal","scale":{"domain":["neg","pos","m0","m1","m2","m3","ln0","ln1","oth","atln"],"range":["#5065b5","#45b845","#5065b5","#45b845","#d3ce97","#86398a","#5065b5","#45b845","#5065b5","#45b845"]},"legend":null}},
 "layer":[
  {"data":{"name":"km"},"transform":[{"filter":"datum.p==='B'"}],"mark":{"type":"line","interpolate":"step-after","strokeWidth":1}},
  {"data":{"name":"km"},"transform":[{"filter":"datum.p==='B' && datum.c===1"}],"mark":{"type":"tick","orient":"vertical","size":6,"thickness":1,"opacity":1}},
  {"data":{"name":"labels"},"transform":[{"filter":"datum.p==='B' && datum.k==='lab'"}],"mark":{"type":"text","align":"left","baseline":"middle","font":"DejaVu Serif","fontSize":10},"encoding":{"text":{"field":"text"},"color":{"value":"#1e1e1e"}}},
  {"data":{"name":"labels"},"transform":[{"filter":"datum.p==='B' && datum.k==='letter'"}],"mark":{"type":"text","align":"left","baseline":"middle","font":"Liberation Serif","fontSize":15},"encoding":{"text":{"field":"text"},"color":{"value":"#1e1e1e"}}}
 ]},
{"width":266,"height":226,
 "encoding":{"x":{"field":"t","type":"quantitative","scale":{"domain":[-3.9,73.6],"nice":false,"zero":false},"axis":{"values":[0,20,40,60],"title":"months"}},
  "y":{"field":"s","type":"quantitative","scale":{"domain":[-0.059,1.054],"nice":false,"zero":false},"axis":{"values":[0,0.2,0.4,0.6,0.8,1],"format":".1f","title":"Cumulative Survival"}},
  "color":{"field":"g","type":"nominal","scale":{"domain":["neg","pos","m0","m1","m2","m3","ln0","ln1","oth","atln"],"range":["#5065b5","#45b845","#5065b5","#45b845","#d3ce97","#86398a","#5065b5","#45b845","#5065b5","#45b845"]},"legend":null}},
 "layer":[
  {"data":{"name":"km"},"transform":[{"filter":"datum.p==='C'"}],"mark":{"type":"line","interpolate":"step-after","strokeWidth":1}},
  {"data":{"name":"km"},"transform":[{"filter":"datum.p==='C' && datum.c===1"}],"mark":{"type":"tick","orient":"vertical","size":6,"thickness":1,"opacity":1}},
  {"data":{"name":"labels"},"transform":[{"filter":"datum.p==='C' && datum.k==='lab'"}],"mark":{"type":"text","align":"left","baseline":"middle","font":"DejaVu Serif","fontSize":10},"encoding":{"text":{"field":"text"},"color":{"value":"#1e1e1e"}}},
  {"data":{"name":"labels"},"transform":[{"filter":"datum.p==='C' && datum.k==='letter'"}],"mark":{"type":"text","align":"left","baseline":"middle","font":"Liberation Serif","fontSize":15},"encoding":{"text":{"field":"text"},"color":{"value":"#1e1e1e"}}},
  {"data":{"name":"labels"},"transform":[{"filter":"datum.p==='C' && datum.k==='stage'"}],"mark":{"type":"text","align":"left","baseline":"middle","font":"DejaVu Serif","fontSize":15},"encoding":{"text":{"field":"text"},"color":{"value":"#1e1e1e"}}}
 ]},
{"width":266,"height":226,
 "encoding":{"x":{"field":"t","type":"quantitative","scale":{"domain":[-3.9,73.6],"nice":false,"zero":false},"axis":{"values":[0,20,40,60],"title":"months"}},
  "y":{"field":"s","type":"quantitative","scale":{"domain":[-0.059,1.054],"nice":false,"zero":false},"axis":{"values":[0,0.2,0.4,0.6,0.8,1],"format":".1f","title":"Cumulative Survival"}},
  "color":{"field":"g","type":"nominal","scale":{"domain":["neg","pos","m0","m1","m2","m3","ln0","ln1","oth","atln"],"range":["#5065b5","#45b845","#5065b5","#45b845","#d3ce97","#86398a","#5065b5","#45b845","#5065b5","#45b845"]},"legend":null}},
 "layer":[
  {"data":{"name":"km"},"transform":[{"filter":"datum.p==='D'"}],"mark":{"type":"line","interpolate":"step-after","strokeWidth":1}},
  {"data":{"name":"km"},"transform":[{"filter":"datum.p==='D' && datum.c===1"}],"mark":{"type":"tick","orient":"vertical","size":6,"thickness":1,"opacity":1}},
  {"data":{"name":"labels"},"transform":[{"filter":"datum.p==='D' && datum.k==='lab'"}],"mark":{"type":"text","align":"left","baseline":"middle","font":"DejaVu Serif","fontSize":10},"encoding":{"text":{"field":"text"},"color":{"value":"#1e1e1e"}}},
  {"data":{"name":"labels"},"transform":[{"filter":"datum.p==='D' && datum.k==='letter'"}],"mark":{"type":"text","align":"left","baseline":"middle","font":"Liberation Serif","fontSize":15},"encoding":{"text":{"field":"text"},"color":{"value":"#1e1e1e"}}},
  {"data":{"name":"labels"},"transform":[{"filter":"datum.p==='D' && datum.k==='stage'"}],"mark":{"type":"text","align":"left","baseline":"middle","font":"DejaVu Serif","fontSize":15},"encoding":{"text":{"field":"text"},"color":{"value":"#1e1e1e"}}}
 ]},
{"width":266,"height":226,
 "encoding":{"x":{"field":"t","type":"quantitative","scale":{"domain":[-4.33,84.33],"nice":false,"zero":false},"axis":{"values":[0,20,40,60,80],"title":"months"}},
  "y":{"field":"s","type":"quantitative","scale":{"domain":[-0.059,1.054],"nice":false,"zero":false},"axis":{"values":[0,0.2,0.4,0.6,0.8,1],"format":".1f","title":"Cumulative Survival"}},
  "color":{"field":"g","type":"nominal","scale":{"domain":["neg","pos","m0","m1","m2","m3","ln0","ln1","oth","atln"],"range":["#5065b5","#45b845","#5065b5","#45b845","#d3ce97","#86398a","#5065b5","#45b845","#5065b5","#45b845"]},"legend":null}},
 "layer":[
  {"data":{"name":"km"},"transform":[{"filter":"datum.p==='E'"}],"mark":{"type":"line","interpolate":"step-after","strokeWidth":1}},
  {"data":{"name":"km"},"transform":[{"filter":"datum.p==='E' && datum.c===1"}],"mark":{"type":"tick","orient":"vertical","size":6,"thickness":1,"opacity":1}},
  {"data":{"name":"labels"},"transform":[{"filter":"datum.p==='E' && datum.k==='lab'"}],"mark":{"type":"text","align":"left","baseline":"middle","font":"DejaVu Serif","fontSize":10},"encoding":{"text":{"field":"text"},"color":{"value":"#1e1e1e"}}},
  {"data":{"name":"labels"},"transform":[{"filter":"datum.p==='E' && datum.k==='letter'"}],"mark":{"type":"text","align":"left","baseline":"middle","font":"Liberation Serif","fontSize":15},"encoding":{"text":{"field":"text"},"color":{"value":"#1e1e1e"}}},
  {"data":{"name":"labels"},"transform":[{"filter":"datum.p==='E' && datum.k==='stage'"}],"mark":{"type":"text","align":"left","baseline":"middle","font":"DejaVu Serif","fontSize":15},"encoding":{"text":{"field":"text"},"color":{"value":"#1e1e1e"}}}
 ]},
{"width":266,"height":226,
 "encoding":{"x":{"field":"t","type":"quantitative","scale":{"domain":[-4.33,84.33],"nice":false,"zero":false},"axis":{"values":[0,20,40,60,80],"title":"months"}},
  "y":{"field":"s","type":"quantitative","scale":{"domain":[-0.059,1.054],"nice":false,"zero":false},"axis":{"values":[0,0.2,0.4,0.6,0.8,1],"format":".1f","title":"Cumulative Survival"}},
  "color":{"field":"g","type":"nominal","scale":{"domain":["neg","pos","m0","m1","m2","m3","ln0","ln1","oth","atln"],"range":["#5065b5","#45b845","#5065b5","#45b845","#d3ce97","#86398a","#5065b5","#45b845","#5065b5","#45b845"]},"legend":null}},
 "layer":[
  {"data":{"name":"km"},"transform":[{"filter":"datum.p==='F'"}],"mark":{"type":"line","interpolate":"step-after","strokeWidth":1}},
  {"data":{"name":"km"},"transform":[{"filter":"datum.p==='F' && datum.c===1"}],"mark":{"type":"tick","orient":"vertical","size":6,"thickness":1,"opacity":1}},
  {"data":{"name":"labels"},"transform":[{"filter":"datum.p==='F' && datum.k==='lab'"}],"mark":{"type":"text","align":"left","baseline":"middle","font":"DejaVu Serif","fontSize":10},"encoding":{"text":{"field":"text"},"color":{"value":"#1e1e1e"}}},
  {"data":{"name":"labels"},"transform":[{"filter":"datum.p==='F' && datum.k==='letter'"}],"mark":{"type":"text","align":"left","baseline":"middle","font":"Liberation Serif","fontSize":15},"encoding":{"text":{"field":"text"},"color":{"value":"#1e1e1e"}}}
 ]},
{"width":266,"height":226,
 "encoding":{"x":{"field":"t","type":"quantitative","scale":{"domain":[-4.33,84.33],"nice":false,"zero":false},"axis":{"values":[0,20,40,60,80],"title":"months"}},
  "y":{"field":"s","type":"quantitative","scale":{"domain":[-0.059,1.054],"nice":false,"zero":false},"axis":{"values":[0,0.2,0.4,0.6,0.8,1],"format":".1f","title":"Cumulative Survival"}},
  "color":{"field":"g","type":"nominal","scale":{"domain":["neg","pos","m0","m1","m2","m3","ln0","ln1","oth","atln"],"range":["#5065b5","#45b845","#5065b5","#45b845","#d3ce97","#86398a","#5065b5","#45b845","#5065b5","#45b845"]},"legend":null}},
 "layer":[
  {"data":{"name":"km"},"transform":[{"filter":"datum.p==='G'"}],"mark":{"type":"line","interpolate":"step-after","strokeWidth":1}},
  {"data":{"name":"km"},"transform":[{"filter":"datum.p==='G' && datum.c===1"}],"mark":{"type":"tick","orient":"vertical","size":6,"thickness":1,"opacity":1}},
  {"data":{"name":"labels"},"transform":[{"filter":"datum.p==='G' && datum.k==='lab'"}],"mark":{"type":"text","align":"left","baseline":"middle","font":"DejaVu Serif","fontSize":10},"encoding":{"text":{"field":"text"},"color":{"value":"#1e1e1e"}}},
  {"data":{"name":"labels"},"transform":[{"filter":"datum.p==='G' && datum.k==='letter'"}],"mark":{"type":"text","align":"left","baseline":"middle","font":"Liberation Serif","fontSize":15},"encoding":{"text":{"field":"text"},"color":{"value":"#1e1e1e"}}}
 ]}
],
"resolve":{"scale":{"x":"independent","y":"independent"}},
"config":{
 "view":{"fill":"#efefef","stroke":"#4d4d4d","strokeWidth":1.3},
 "axis":{"domain":false,"grid":false,"ticks":true,"tickColor":"#444","tickSize":4,"labelFont":"Liberation Sans","labelFontSize":7.5,"labelColor":"#444","labelPadding":2,"labelFlush":false},
 "axisX":{"titleFont":"Liberation Sans","titleFontWeight":"bold","titleFontSize":9.5,"titleColor":"#111","titlePadding":7},
 "axisY":{"titleFont":"DejaVu Serif","titleFontWeight":"normal","titleFontSize":10,"titleColor":"#333","titlePadding":11,"labelPadding":1}
}
}
